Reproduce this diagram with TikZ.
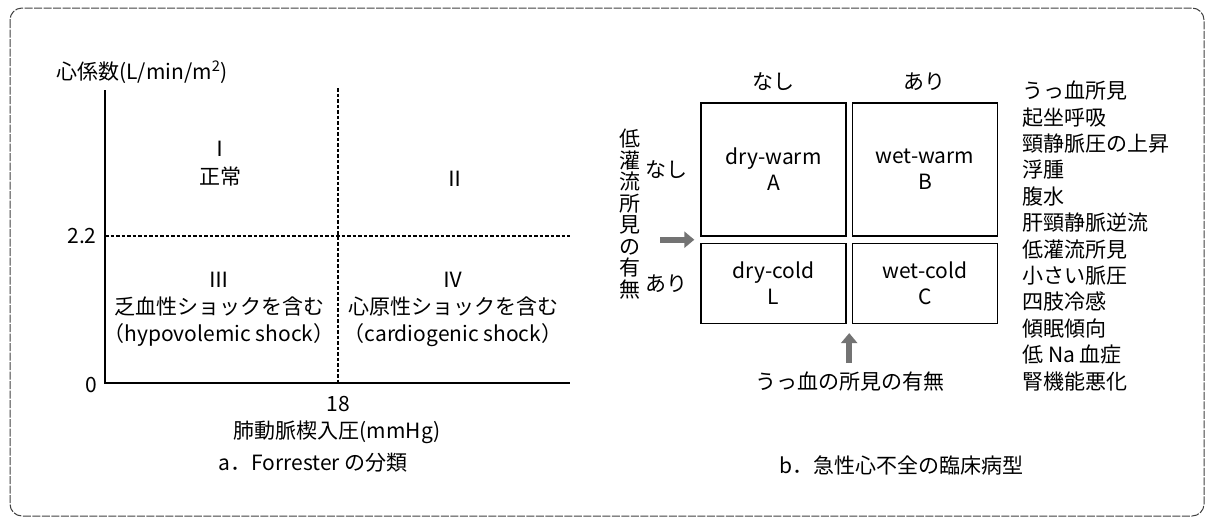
\documentclass[tikz,border=0pt]{standalone}
\usepackage{fontspec}
\setmainfont{Noto Sans CJK JP}
\usetikzlibrary{positioning, arrows.meta, calc}

\begin{document}
\begin{tikzpicture}[
	x=1pt, y=-1pt, % pixel-like units, y grows downwards
	thick,
	>=Stealth,
	% Style for texts
	txt/.style={
		inner sep=0pt,
		align=center,
		font=\fontsize{21}{27}\selectfont
	},
	% Style for the four profile cells
	cell/.style={
		rectangle,
		draw=black,
		line width=1.4pt,
		minimum width=145pt,
		align=center,
		font=\fontsize{21}{26}\selectfont
	},
	% Line Styles
	axisline/.style={line width=1.5pt},
	divider/.style={dashed, dash pattern=on 3.5pt off 2pt, line width=1.2pt},
	fatarrow/.style={-{Triangle[length=10pt, width=16pt]}, line width=6pt, color=black!55},
	outerframe/.style={draw=black!75, dashed, dash pattern=on 8pt off 1.5pt, line width=1pt, rounded corners=12pt}
	]
	\useasboundingbox (0,0) rectangle (1212,528);
	
	% --- OUTER FRAME ---
	\draw[outerframe] (10,8) rectangle (1204,516);
	
	% --- a. FORRESTER ---
	
	% Axes
	\coordinate (yTop) at (105,90);
	\coordinate (O) at (105,383);
	\coordinate (xEnd) at (570,383);
	\draw[axisline] (yTop) -- (O) -- (xEnd);
	
	% Dividing lines (PCWP 18, CI 2.2)
	\coordinate (vTop) at (338,88);
	\coordinate (vBot) at (338,383);
	\coordinate (hLeft) at (105,236);
	\coordinate (hRight) at (570,236);
	\draw[divider] (vTop) -- (vBot);
	\draw[divider] (hLeft) -- (hRight);
	
	% Axis labels
	\node[txt] (yLabel) at (142,72) {心係数(L/min/m\textsuperscript{2})};
	\node[txt, anchor=east] (tickCI) at (97,236) {2.2};
	\node[txt, anchor=east] (tickZero) at (98,385) {0};
	\node[txt] (tickPCWP) at (338,404) {18};
	\node[txt] (xLabel) at (337,432) {肺動脈楔入圧(mmHg)};
	\node[txt] (captionA) at (313,463) {a．Forrester の分類};
	
	% Quadrants
	\node[txt, font=\fontsize{21}{28}\selectfont] (Q1) at (220,164) {Ⅰ\\正常};
	\node[txt] (Q2) at (455,179) {Ⅱ};
	\node[txt] (Q3) at (219,309) {Ⅲ\\乏血性ショックを含む\\（hypovolemic shock）};
	\node[txt] (Q4) at (453,309) {Ⅳ\\心原性ショックを含む\\（cardiogenic shock）};
	
	% --- b. CLINICAL PROFILES ---
	
	% Cells
	\node[cell, minimum height=133pt] (A) at (773.5,169.5) {dry-warm\\A};
	\node[cell, minimum height=133pt, right=5pt of A] (B) {wet-warm\\B};
	\node[cell, minimum height=80pt, below=6pt of A] (L) {dry-cold\\L};
	\node[cell, minimum height=80pt, right=5pt of L] (C) {wet-cold\\C};
	
	% Column and row headings
	\node[txt, above=11pt of A] (colNo) {なし};
	\node[txt, above=11pt of B] (colYes) {あり};
	\node[txt, left=12pt of A] (rowNo) {なし};
	\node[txt, left=12pt of L] (rowYes) {あり};
	
	% Hypoperfusion (vertical)
	\node[txt, font=\fontsize{21}{21.5}\selectfont] (perfusion) at (630,214) {低\\灌\\流\\所\\見\\の\\有\\無};
	
	% Arrows into the gaps
	\coordinate (rowGap) at ($(A.south west)!0.5!(L.north west)$);
	\coordinate (colGap) at ($(L.south east)!0.5!(C.south west)$);
	\draw[fatarrow] ([xshift=-40pt]rowGap) -- ([xshift=-6pt]rowGap);
	\node[txt] (congestion) at (850,382) {うっ血の所見の有無};
	\draw[fatarrow] ([yshift=-39pt]colGap) -- ([yshift=-9pt]colGap);
	
	% Findings list
	\node[txt, anchor=west, align=left, font=\fontsize{21}{26.4}\selectfont] (findings) at (1022,236) {うっ血所見\\起坐呼吸\\頸静脈圧の上昇\\浮腫\\腹水\\肝頸静脈逆流\\低灌流所見\\小さい脈圧\\四肢冷感\\傾眠傾向\\低 Na 血症\\腎機能悪化};
	
	\node[txt] (captionB) at (901,465) {b．急性心不全の臨床病型};
	
\end{tikzpicture}
\end{document}
